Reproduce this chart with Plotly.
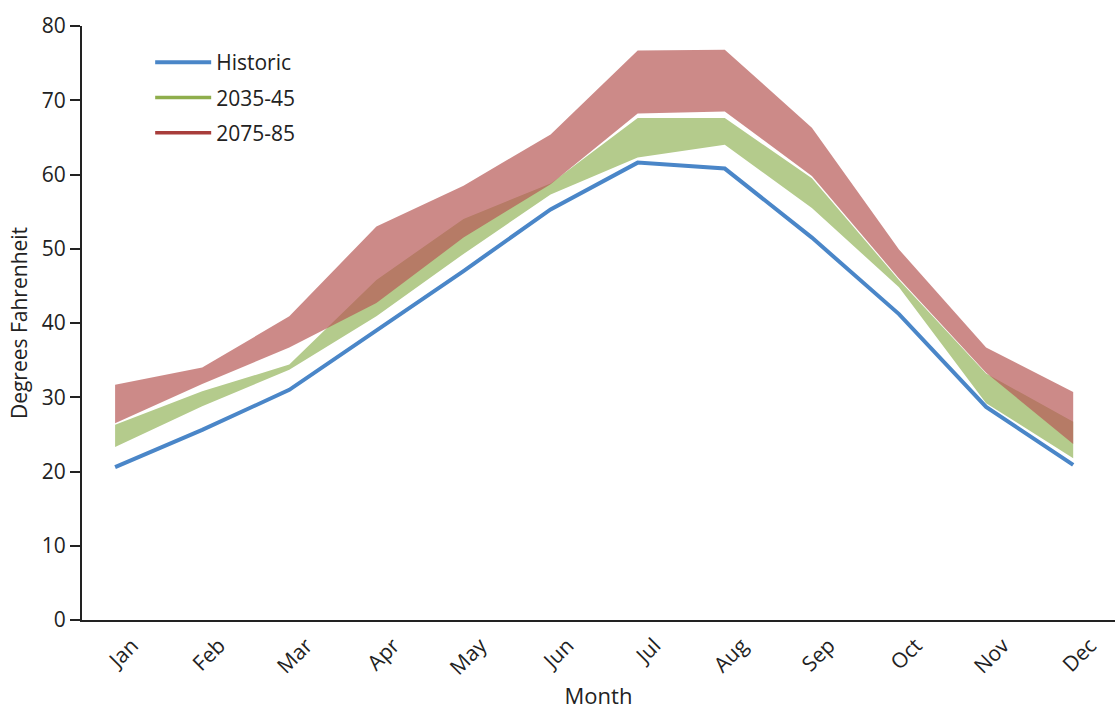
import plotly.graph_objects as go

months = ["Jan", "Feb", "Mar", "Apr", "May", "Jun", "Jul", "Aug", "Sep", "Oct", "Nov", "Dec"]
historic = [20.6, 25.6, 31.0, 39.0, 47.0, 55.3, 61.6, 60.8, 51.5, 41.2, 28.7, 20.9]
mid_low = [23.3, 28.8, 33.7, 40.9, 49.3, 57.3, 62.3, 64.0, 55.5, 44.8, 29.2, 21.8]
mid_high = [26.3, 30.8, 34.4, 45.8, 54.0, 58.8, 67.6, 67.6, 59.5, 45.8, 33.2, 26.7]
late_low = [26.5, 31.8, 36.7, 42.7, 51.5, 58.7, 68.2, 68.5, 59.8, 46.0, 33.3, 23.7]
late_high = [31.7, 34.0, 40.9, 53.0, 58.5, 65.4, 76.7, 76.8, 66.3, 49.9, 36.7, 30.7]
y_ticks = [0, 10, 20, 30, 40, 50, 60, 70, 80]

FONT = "Open Sans"
x = list(range(len(months)))

fig = go.Figure()

# 2035-45 band
fig.add_trace(go.Scatter(x=x, y=mid_low, mode="lines", line=dict(width=0),
                         showlegend=False, hoverinfo="skip"))
fig.add_trace(go.Scatter(x=x, y=mid_high, mode="lines", line=dict(width=0),
                         fill="tonexty", fillcolor="rgb(180,203,140)",
                         showlegend=False, hoverinfo="skip"))
# 2075-85 band
fig.add_trace(go.Scatter(x=x, y=late_low, mode="lines", line=dict(width=0),
                         showlegend=False, hoverinfo="skip"))
fig.add_trace(go.Scatter(x=x, y=late_high, mode="lines", line=dict(width=0),
                         fill="tonexty", fillcolor="rgba(182,88,85,0.7)",
                         showlegend=False, hoverinfo="skip"))
# Historic line
fig.add_trace(go.Scatter(x=x, y=historic, mode="lines", name="Historic",
                         line=dict(color="#4a86c8", width=4),
                         legendgroup="a"))
# legend entries for bands
fig.add_trace(go.Scatter(x=[None], y=[None], mode="lines", name="2035-45",
                         line=dict(color="#8fae4c", width=3.5), legendgroup="b"))
fig.add_trace(go.Scatter(x=[None], y=[None], mode="lines", name="2075-85",
                         line=dict(color="#a83d3b", width=3.5), legendgroup="c"))

fig.update_layout(
    width=1115, height=710,
    margin=dict(l=82, r=0, t=26, b=90),
    paper_bgcolor="white", plot_bgcolor="white",
    font=dict(family=FONT, color="#222", size=20),
    legend=dict(x=0.066, y=0.973, xanchor="left", yanchor="top",
                font=dict(size=21, color="#222"), tracegroupgap=5,
                itemwidth=56, bgcolor="rgba(0,0,0,0)"),
    xaxis=dict(range=[-0.38, 11.48], tickvals=x, ticktext=months,
               tickangle=-45, showgrid=False, zeroline=False,
               showline=True, linecolor="#222", linewidth=2,
               ticks="", tickfont=dict(size=21, color="#222"),
               ticklabelshift=17, ticklabelstandoff=3,
               title=dict(text="Month", font=dict(size=22, color="#222"), standoff=9)),
    yaxis=dict(range=[0, 80], tickvals=y_ticks, showgrid=False, zeroline=False,
               showline=True, linecolor="#222", linewidth=2,
               ticks="outside", ticklen=10, tickwidth=1.5, tickcolor="#222",
               tickfont=dict(size=21, color="#222"),
               title=dict(text="Degrees Fahrenheit", font=dict(size=21, color="#222"), standoff=8)),
)

fig.write_html("out.html")
